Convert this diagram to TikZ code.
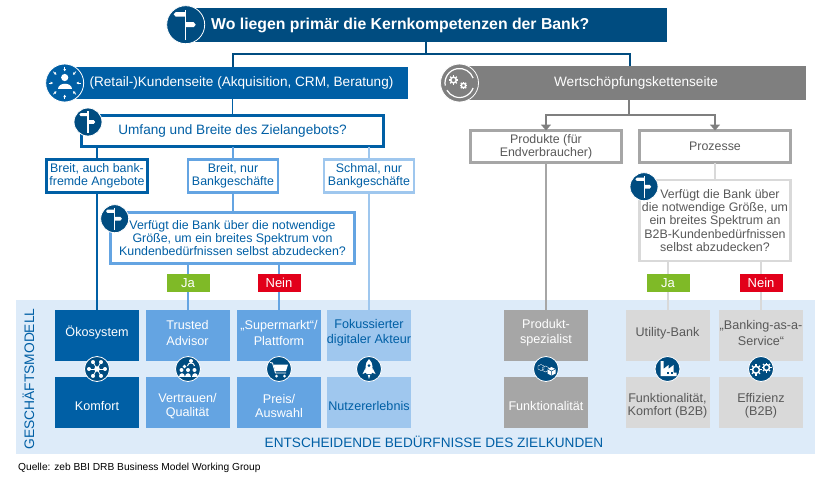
\documentclass[tikz,border=0pt]{standalone}
\usepackage{fontspec}
\setmainfont{Liberation Sans}
\usepackage{tikz}
\usetikzlibrary{arrows.meta}

\definecolor{navy}{HTML}{004C80}
\definecolor{bankblue}{HTML}{005FA5}
\definecolor{midblue}{HTML}{64A4E2}
\definecolor{lightblue}{HTML}{9FC7EE}
\definecolor{panelblue}{HTML}{DDEBF9}
\definecolor{darkgrey}{HTML}{7F7F7F}
\definecolor{midgrey}{HTML}{A6A6A6}
\definecolor{lightgrey}{HTML}{D9D9D9}
\definecolor{textgrey}{HTML}{595959}
\definecolor{jagreen}{HTML}{7FBA27}
\definecolor{neinred}{HTML}{E2001A}

\tikzset{
  bigfont/.style={font=\fontsize{13.6}{13.6}\selectfont},
  boxfont/.style={font=\fontsize{12.4}{13.3}\selectfont},
  sidebar/.style={rectangle, outer sep=0pt, inner sep=0pt, text=white, bigfont},
  decisionbox/.style={rectangle, draw, fill=white, outer sep=0pt, inner sep=0pt, align=center, boxfont, line width=2.2pt},
  answer/.style={rectangle, outer sep=0pt, inner sep=0pt, text=white, minimum width=43pt, minimum height=18pt, font=\fontsize{13}{13}\selectfont},
  card/.style={rectangle, outer sep=0pt, inner sep=0pt, minimum width=84pt, minimum height=51pt},
  cardtext/.style={align=center, inner sep=0pt, font=\fontsize{12.6}{15.3}\selectfont},
  bigicon/.style={circle, draw=white, line width=0.8pt, minimum size=38pt, inner sep=0pt, outer sep=0pt},
  smallicon/.style={circle, draw=white, line width=0.8pt, fill=navy, minimum size=25pt, inner sep=0pt, outer sep=0pt},
  link/.style={line width=1.6pt},
  pics/signpost/.style={code={
    \fill[white] (-0.7,-15) rectangle (0.7,15);
    \fill[white] (-12,-10.5) -- (-10,-12.5) -- (0,-12.5) -- (0,-8) -- (-10,-8) -- cycle;
    \fill[white] (0,-2.5) -- (8,-2.5) -- (10,0) -- (8,2.5) -- (0,2.5) -- cycle;
  }},
  pics/gear/.style={code={
    \draw[white, line width=1.5pt] (0,0) circle (3);
    \foreach \a in {0,45,...,315} {
      \draw[white, line width=1.2pt] (\a:3.5) -- (\a:5);
    }
  }}
}

\begin{document}
\begin{tikzpicture}[x=1pt, y=-1pt]
\useasboundingbox (0,0) rectangle (825,480);

% panel for the business models
\fill[panelblue] (16,300) rectangle (815,454);

% header bars
\node[sidebar, fill=navy, minimum width=472pt, minimum height=34pt] (title) at (431,25) {};
\node[anchor=west, text=white, inner sep=0pt, font=\fontsize{15.8}{15.8}\selectfont\bfseries] (titletext) at (211,25) {Wo liegen primär die Kernkompetenzen der Bank?};
\node[sidebar, fill=bankblue, minimum width=333pt, minimum height=32pt] (retail) at (241.5,83) {(Retail-)Kundenseite (Akquisition, CRM, Beratung)};
\node[sidebar, fill=darkgrey, minimum width=340pt, minimum height=34pt] (wert) at (636,83) {Wertschöpfungskettenseite};

% left branch boxes
\node[decisionbox, draw=bankblue, text=bankblue, minimum width=302pt, minimum height=31pt, bigfont] (umfang) at (232.5,131) {Umfang und Breite des Zielangebots?};
\node[decisionbox, draw=bankblue, text=bankblue, minimum width=101pt, minimum height=33pt] (auch) at (97,176) {Breit, auch bank-\\fremde Angebote};
\node[decisionbox, draw=midblue, text=bankblue, minimum width=90pt, minimum height=33pt] (nur) at (233,176) {Breit, nur\\Bankgeschäfte};
\node[decisionbox, draw=lightblue, text=bankblue, minimum width=90pt, minimum height=33pt] (schmal) at (369,176) {Schmal, nur\\Bankgeschäfte};
\node[decisionbox, draw=midblue, text=bankblue, minimum width=244pt, minimum height=51pt] (groesse) at (232.5,238) {Verfügt die Bank über die notwendige\\Größe, um ein breites Spektrum von\\Kundenbedürfnissen selbst abzudecken?};

% right branch boxes
\node[decisionbox, draw=midgrey, text=textgrey, minimum width=151pt, minimum height=32pt] (produkte) at (546,146.5) {Produkte (für\\Endverbraucher)};
\node[decisionbox, draw=midgrey, text=textgrey, minimum width=151pt, minimum height=32pt] (prozesse) at (715,146.5) {Prozesse};
\node[decisionbox, draw=lightgrey, text=textgrey, minimum width=151pt, minimum height=81pt] (groesseb) at (715,220.5) {\hspace*{10pt}Verfügt die Bank über\\die notwendige Größe, um\\ein breites Spektrum an\\B2B-Kundenbedürfnissen\\selbst abzudecken?};

% Ja / Nein
\node[answer, fill=jagreen] (ja) at (188,283) {Ja};
\node[answer, fill=neinred] (nein) at (279,283) {Nein};
\node[answer, fill=jagreen] (jab) at (668,283) {Ja};
\node[answer, fill=neinred] (neinb) at (761,283) {Nein};

% business model cards
\foreach \name/\x/\col/\txt/\upper/\lower in {
  oeko/97/bankblue/white/{Ökosystem}/{Komfort},
  trusted/187.5/midblue/white/{Trusted\\Advisor}/{Vertrauen/\\Qualität},
  markt/279/midblue/white/{„Supermarkt“/\\Plattform}/{Preis/\\Auswahl},
  digital/369/lightblue/bankblue/{Fokussierter\\digitaler Akteur}/{Nutzererlebnis},
  spezial/546/midgrey/white/{Produkt-\\spezialist}/{Funktionalität},
  utility/667.5/lightgrey/textgrey/{Utility-Bank}/{Funktionalität,\\Komfort (B2B)},
  baas/761/lightgrey/textgrey/{„Banking-as-a-\\Service“}/{Effizienz\\(B2B)}} {
  \node[card, fill=\col] (\name up) at (\x,335.5) {};
  \node[card, fill=\col] (\name low) at (\x,402.5) {};
  \node[cardtext, text=\txt] (\name uptext) at ([yshift=2.5pt]\name up.center) {\upper};
  \node[cardtext, text=\txt, font=\fontsize{12.6}{13.3}\selectfont] (\name lowtext) at ([yshift=-3.5pt]\name low.center) {\lower};
}

% connectors
\coordinate (titleout) at (426,42);
\coordinate (titlejoin) at (426,54);
\coordinate (retailin) at (233,67);
\coordinate (wertin) at (630,66);
\coordinate (wertout) at (629,100);
\coordinate (wertjoin) at (629,115);
\draw[navy, line width=1.2pt] (retailin) |- (titlejoin) -- (titleout);
\draw[navy, line width=1.2pt] (wertin) |- (titlejoin);
\draw[bankblue, link] (retail.south -| umfang.north) -- (umfang.north);
\draw[bankblue, link] (umfang.south -| auch.north) -- (auch.north);
\draw[midblue, link] (umfang.south -| nur.north) -- (nur.north);
\draw[lightblue, link] (umfang.south -| schmal.north) -- (schmal.north);
\draw[bankblue, link] (auch.south) -- (oekoup.north);
\draw[midblue, link] (nur.south) -- (groesse.north -| nur.south);
\draw[lightblue, link] (schmal.south) -- (digitalup.north);
\draw[midblue, link] (groesse.south -| ja.north) -- (ja.north);
\draw[midblue, link] (groesse.south -| nein.north) -- (nein.north);
\draw[midblue, link] (ja.south) -- (ja.south |- trustedup.north);
\draw[midblue, link] (nein.south) -- (marktup.north);
\draw[darkgrey, line width=2pt, -{Triangle[length=6pt, width=10pt]}] (wertout) -- (wertjoin) -| (produkte.north);
\draw[darkgrey, line width=2pt, -{Triangle[length=6pt, width=10pt]}] (wertjoin) -| (prozesse.north);
\draw[midgrey, link] (produkte.south) -- (spezialup.north);
\draw[lightgrey, link] (prozesse.south) -- (groesseb.north);
\draw[lightgrey, link] (groesseb.south -| jab.north) -- (jab.north);
\draw[lightgrey, link] (groesseb.south -| neinb.north) -- (neinb.north);
\draw[lightgrey, link] (jab.south) -- (jab.south |- utilityup.north);
\draw[lightgrey, link] (neinb.south) -- (baasup.north);

% round icons at the bars and questions
\node[bigicon, fill=navy] (titleicon) at (185.7,24.7) {};
\pic at (titleicon) {signpost};
\node[bigicon, fill=navy, minimum size=28pt] (umfangicon) at (88,122) {};
\pic[scale=0.72] at (umfangicon) {signpost};
\node[bigicon, fill=navy, minimum size=28pt] (groesseicon) at (114.7,218.7) {};
\pic[scale=0.72] at (groesseicon) {signpost};
\node[bigicon, fill=navy, minimum size=28pt] (groessebicon) at (644,186.7) {};
\pic[scale=0.72] at (groessebicon) {signpost};

\node[bigicon, fill=bankblue] (retailicon) at (64.7,83) {};
\begin{scope}[shift={(retailicon)}]
  \fill[white] (0,-5.5) circle (3.6);
  \fill[white] (-7,6) .. controls (-7,-1) and (7,-1) .. (7,6) -- cycle;
  \foreach \a in {0,45,...,315} {
    \draw[white, line width=0.7pt, -{Latex[length=2.5pt, width=3pt]}] (\a:16) -- (\a:11.5);
  }
\end{scope}

\node[bigicon, fill=darkgrey] (werticon) at (459.5,83) {};
\begin{scope}[shift={(werticon)}]
  \draw[white, line width=1.2pt] (20:14.5) arc (20:150:14.5);
  \draw[white, line width=1.2pt] (170:14.5) arc (170:340:14.5);
  \pic[scale=0.95] at (-6,-3) {gear};
  \pic[scale=0.75] at (4,2.5) {gear};
\end{scope}

% round icons between the cards
\node[smallicon] (hubicon) at (97,369) {};
\begin{scope}[shift={(hubicon)}]
  \foreach \a in {0,60,...,300} {
    \draw[white, line width=0.8pt] (0,0) -- (\a:8);
    \fill[white] (\a:8) circle (2);
  }
  \fill[white] (0,0) circle (2.8);
\end{scope}

\node[smallicon] (peopleicon) at (188,369) {};
\begin{scope}[shift={(peopleicon)}]
  \foreach \dx in {-6.5,0,6.5} {
    \fill[white] (\dx,1) circle (2);
    \fill[white] (\dx-3,8) .. controls (\dx-3,3) and (\dx+3,3) .. (\dx+3,8) -- cycle;
  }
  \fill[white] (-3.5,-2.5) circle (1.8);
  \draw[white, line width=1pt] (-0.5,-3) arc (180:360:3.5 and 3);
  \fill[white] (3,-8) circle (2);
\end{scope}

\node[smallicon] (carticon) at (279,369) {};
\begin{scope}[shift={(carticon)}]
  \draw[white, line width=0.9pt] (-9,-6.5) -- (-6.5,-6) -- (-3.5,4) -- (7,4);
  \fill[white] (-5.5,-4.5) -- (9,-4.5) -- (7,2) -- (-3.8,2) -- cycle;
  \fill[white] (-2.5,7) circle (1.5);
  \fill[white] (5.5,7) circle (1.5);
\end{scope}

\node[smallicon] (rocketicon) at (369,369) {};
\begin{scope}[shift={(rocketicon)}]
  \fill[white] (0,-10) .. controls (4.5,-6) and (4,1) .. (2.5,5) -- (-2.5,5) .. controls (-4,1) and (-4.5,-6) .. (0,-10);
  \fill[white] (-3.5,-1) -- (-6.5,5) -- (-2.8,3.5) -- cycle;
  \fill[white] (3.5,-1) -- (6.5,5) -- (2.8,3.5) -- cycle;
  \fill[white] (-1.2,6) -- (1.2,6) -- (0,10) -- cycle;
  \fill[navy] (0,-3.5) circle (1.5);
\end{scope}

\node[smallicon] (boxicon) at (546,369) {};
\begin{scope}[shift={(boxicon)}]
  \foreach \dx/\dy in {-8/-3,-3.5/-1.5} {
    \draw[white, line width=0.4pt] (\dx,\dy) -- ++(3,-1.5) -- ++(3,1.5) -- ++(0,3) -- ++(-3,1.5) -- ++(-3,-1.5) -- cycle;
  }
  \fill[white] (1.5,0) -- (5.5,-2) -- (9.5,0) -- (9.5,4.5) -- (5.5,6.5) -- (1.5,4.5) -- cycle;
  \draw[navy, line width=0.5pt] (1.5,0) -- (5.5,2) -- (9.5,0) (5.5,2) -- (5.5,6.5);
\end{scope}

\node[smallicon] (factoryicon) at (667.5,369) {};
\begin{scope}[shift={(factoryicon)}]
  \fill[white] (-7,7) -- (-7,-8) -- (-4,-8) -- (-4,0) -- (1,-4) -- (1,0) -- (6,-4) -- (6,3.5) -- (9,3.5) -- (9,7) -- cycle;
  \fill[navy] (-1,2.5) rectangle (1,4.5);
  \fill[navy] (3,2.5) rectangle (5,4.5);
\end{scope}

\node[smallicon] (gearsicon) at (761,369) {};
\begin{scope}[shift={(gearsicon)}]
  \pic[scale=1.15] at (-5,0.8) {gear};
  \pic[scale=1] at (5.5,-1.5) {gear};
\end{scope}

% axis captions and source
\node[rotate=90, text=bankblue, inner sep=0pt, font=\fontsize{13.8}{13.8}\selectfont] (axismodell) at (28.5,379) {GESCHÄFTSMODELL};
\node[text=bankblue, inner sep=0pt, font=\fontsize{13.6}{13.6}\selectfont] (axisbedarf) at (434,441.5) {ENTSCHEIDENDE BEDÜRFNISSE DES ZIELKUNDEN};
\node[anchor=west, inner sep=0pt, font=\fontsize{10.2}{10.2}\selectfont] (quelle) at (18,467.5) {Quelle: zeb BBI DRB Business Model Working Group};
\end{tikzpicture}
\end{document}
